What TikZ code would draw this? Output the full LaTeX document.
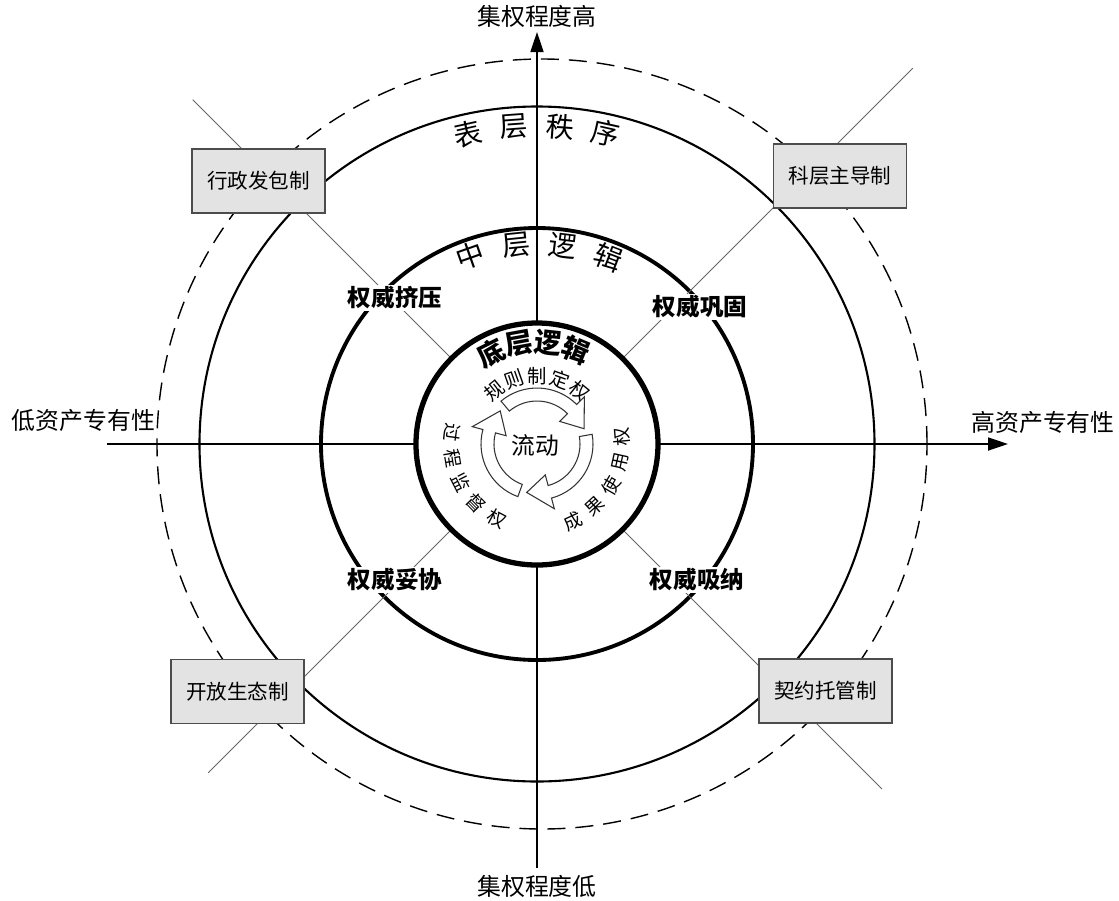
\documentclass[tikz,border=0pt]{standalone}
\usepackage{fontspec}
\setmainfont{Noto Sans CJK SC}
\usetikzlibrary{arrows.meta}

\begin{document}
\begin{tikzpicture}[
  every node/.style={inner sep=1pt},
  axislabel/.style={font=\fontsize{13.6}{16}\selectfont},
  modebox/.style={draw=black!70, fill=black!11, line width=0.8pt,
    minimum width=2.66cm, minimum height=1.28cm, font=\fontsize{11.7}{14}\selectfont},
  authlabel/.style={fill=white, inner sep=1pt, font=\bfseries\fontsize{13.4}{16}\selectfont},
  layerchar/.style={font=\fontsize{16}{18}\selectfont},
  basechar/.style={inner sep=0pt, font=\bfseries\fontsize{15.5}{17}\selectfont},
  powerchar/.style={inner sep=0pt, font=\fontsize{11}{12}\selectfont},
  sidechar/.style={inner sep=0pt, font=\fontsize{10.5}{12}\selectfont},
  flowarrow/.style={draw=black!80, fill=white, line width=0.6pt},
  diag/.style={draw=black!60, line width=0.5pt},
  axis/.style={line width=1pt, -{Triangle[length=0.4cm, width=0.26cm]}}
]
\useasboundingbox (-10.74,-9.12) rectangle (11.64,8.88);

% centre and axis ends
\coordinate (O) at (0,0);
\coordinate (S) at (0,-8.48);
\coordinate (N) at (0,8.24);
\coordinate (W) at (-8.6,0);
\coordinate (E) at (9.42,0);

% rings
\draw[line width=0.8pt, dash pattern=on 0.36cm off 0.2cm] (0.1,0) circle[radius=7.7];
\draw[line width=1.2pt] (O) circle[radius=6.75];
\draw[line width=2.2pt] (O) circle[radius=4.32];

% axes
\draw[axis] (S) -- (N);
\draw[axis] (W) -- (E);
\node[axislabel] (high) at (0,8.55) {集权程度高};
\node[axislabel] (low) at (0,-8.84) {集权程度低};
\node[axislabel] (lowasset) at (-9.07,0.48) {低资产专有性};
\node[axislabel] (highasset) at (10.12,0.44) {高资产专有性};

% diagonals
\coordinate (nw) at (135:9.74);
\coordinate (ne) at (45:10.63);
\coordinate (sw) at (225:9.3);
\coordinate (se) at (315:9.76);
\foreach \d in {nw,ne,sw,se}
  \draw[diag] (O) -- (\d);

% inner ring covers the crossing
\draw[line width=3pt, fill=white] (O) circle[radius=2.42];

% governance modes
\node[modebox] (admin) at (-5.57,5.26) {行政发包制};
\node[modebox] (bureau) at (6.06,5.36) {科层主导制};
\node[modebox] (eco) at (-5.99,-4.95) {开放生态制};
\node[modebox] (contract) at (5.77,-4.94) {契约托管制};

% authority labels
\node[authlabel] (squeeze) at (-2.84,2.92) {权威挤压};
\node[authlabel] (consol) at (3.26,2.74) {权威巩固};
\node[authlabel] (comprom) at (-2.84,-2.72) {权威妥协};
\node[authlabel] (absorb) at (3.2,-2.72) {权威吸纳};

% layer titles along the rings
\foreach \ch/\ang [count=\i] in {表/102.5, 层/94.2, 秩/85.8, 序/77.5}
  \node[layerchar, rotate=\ang-90] (surf\i) at (\ang:6.36) {\ch};
\foreach \ch/\ang [count=\i] in {中/109.5, 层/95.9, 逻/82.7, 辑/69}
  \node[layerchar, rotate=\ang-90] (mid\i) at (\ang:4.0) {\ch};
\foreach \ch/\ang [count=\i] in {底/116.75, 层/100.25, 逻/83.75, 辑/67.25}
  \node[basechar, rotate=\ang-90] (base\i) at (\ang:2.04) {\ch};

% rights around the flow
\foreach \ch/\ang [count=\i] in {规/129, 则/109.5, 制/90, 定/70.5, 权/51}
  \node[powerchar, rotate=\ang-90] (rule\i) at (\ang:1.36) {\ch};
\foreach \ch/\ang [count=\i] in {成/-65, 果/-47.5, 使/-30, 用/-12.5, 权/5}
  \node[sidechar, rotate=\ang+90] (use\i) at (\ang:1.7) {\ch};
\foreach \ch/\ang [count=\i] in {过/172, 程/189.5, 监/207, 督/224.5, 权/242}
  \node[sidechar, rotate=\ang+90] (sup\i) at (\ang:1.7) {\ch};

% circular flow arrows
\foreach \off in {0,-120,-240}
  \draw[flowarrow] ({130+\off}:1.12) arc[start angle={130+\off}, end angle={45+\off}, radius=1.12]
    -- ({45+\off}:1.34) -- ({18+\off}:0.99) -- ({45+\off}:0.64) -- ({45+\off}:0.86)
    arc[start angle={45+\off}, end angle={130+\off}, radius=0.86] -- cycle;
\node[font=\fontsize{13.5}{16}\selectfont] (flow) at (-0.04,-0.02) {流动};
\end{tikzpicture}
\end{document}
